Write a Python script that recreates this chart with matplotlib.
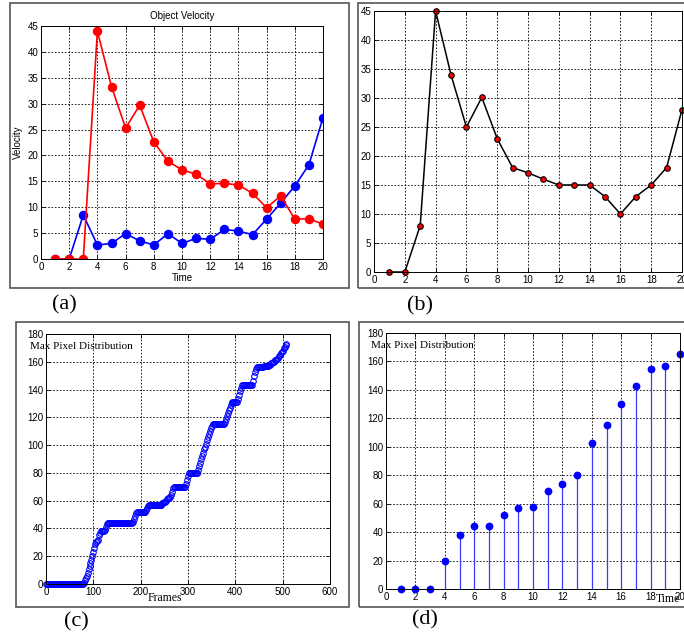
import numpy as np
import matplotlib
matplotlib.use("Agg")
from matplotlib import pyplot as plt
from matplotlib.patches import Rectangle

# (a) object velocity, two objects
time_a = list(range(1, 21))
vel_red = [0, 0, 0, 44, 33.3, 25.3, 29.7, 22.6, 18.9, 17.2,
           16.4, 14.5, 14.6, 14.3, 12.7, 9.9, 12.2, 7.7, 7.8, 6.7]
vel_blue = [0, 0, 8.5, 2.7, 3.0, 4.9, 3.5, 2.7, 4.9, 3.0,
            4.0, 3.8, 5.7, 5.4, 4.7, 7.7, 10.8, 14.1, 18.2, 27.3]

# (b) single velocity curve
time_b = list(range(1, 21))
vel_b = [0, 0, 8, 45, 34, 25, 30.1, 23, 18, 17.1,
         16, 15, 15, 15, 13, 10, 13, 15, 18, 28]

# (c) max pixel distribution, read every 2 frames (0..508)
pix_c = ([0] * 39
         + [0, 1, 3, 4, 6, 8, 11, 13, 15, 17, 20, 23, 26, 29, 30, 31, 32,
            35, 37, 38, 38, 38, 38, 39, 41, 43, 44]
         + [44] * 26
         + [45, 47, 49, 51, 52]
         + [52] * 9
         + [53, 55, 56, 57]
         + [57] * 13
         + [58, 58, 59, 59, 60, 61, 62, 62, 63, 64, 66, 69, 70]
         + [70] * 12
         + [72, 75, 78, 80]
         + [80] * 9
         + [82, 85, 87, 90, 92, 94, 97, 99, 101, 104, 106, 108, 110, 112, 114, 115]
         + [115] * 12
         + [117, 119, 121, 123, 125, 127, 129, 130, 131]
         + [131] * 5
         + [133, 136, 139, 141, 143]
         + [143] * 11
         + [146, 150, 153, 155, 156]
         + [156] * 6
         + [157] * 6
         + [158, 158, 159, 159, 160, 160, 161, 161, 162, 163, 164, 165,
            166, 167, 168, 170, 171, 172, 173])
frames_c = list(range(0, 2 * len(pix_c), 2))

# (d) max pixel distribution over time
time_d = list(range(1, 21))
pix_d = [0, 0, 0, 20, 38, 44, 44, 52, 57, 58,
         69, 74, 80, 103, 115, 130, 143, 155, 157, 165]

W, H = 684, 644
fig = plt.figure(figsize=(W / 100, H / 100), dpi=100)
fig.patch.set_facecolor("white")

sans = "Liberation Sans"
serif = "Liberation Serif"


def px_axes(l, t, r, b):
    return fig.add_axes([l / W, 1 - b / H, (r - l) / W, (b - t) / H])


def px_box(l, t, r, b):
    fig.patches.append(Rectangle((l / W, 1 - b / H), (r - l) / W, (b - t) / H,
                                 transform=fig.transFigure, fill=False,
                                 edgecolor="#555555", linewidth=1.2))


def matlab_style(ax):
    ax.grid(True, color="black", linestyle=(0, (2, 2)), linewidth=0.6)
    ax.set_axisbelow(True)
    ax.tick_params(direction="in", top=True, right=True, length=3,
                   width=0.6, labelsize=7, pad=2)
    for lab in ax.get_xticklabels() + ax.get_yticklabels():
        lab.set_fontfamily(sans)
    for s in ax.spines.values():
        s.set_linewidth(0.7)


# frames around each panel
px_box(10, 3, 349, 288)
px_box(358, 3, 700, 288)
px_box(16, 322, 349, 607)
px_box(359, 322, 700, 607)

# (a)
ax = px_axes(41, 26, 323, 259)
ax.plot(time_a, vel_blue, "-o", color="blue", lw=1.2, ms=5.8)
ax.plot(time_a, vel_red, "-o", color="red", lw=1.2, ms=5.8)
ax.set_xlim(0, 20)
ax.set_ylim(0, 45)
ax.set_xticks(range(0, 21, 2))
ax.set_yticks(range(0, 46, 5))
matlab_style(ax)
ax.set_title("Object Velocity", fontsize=7, family=sans, pad=5)
ax.set_xlabel("Time", fontsize=7, family=sans, labelpad=1)
ax.set_ylabel("Velocity", fontsize=7, family=sans, labelpad=3)

# (b)
ax = px_axes(374, 11, 682, 272)
ax.plot(time_b, vel_b, "-o", color="black", lw=1.1, ms=4,
        markerfacecolor="red", markeredgecolor="black", markeredgewidth=0.8,
        clip_on=False)
ax.set_xlim(0, 20)
ax.set_ylim(0, 45)
ax.set_xticks(range(0, 21, 2))
ax.set_yticks(range(0, 46, 5))
matlab_style(ax)

# (c)
ax = px_axes(46, 334, 330, 584)
ax.plot(frames_c, pix_c, "o", color="blue", ms=4, mfc="none", mew=0.8,
        clip_on=False)
ax.set_xlim(0, 600)
ax.set_ylim(0, 180)
ax.set_xticks(range(0, 601, 100))
ax.set_yticks(range(0, 181, 20))
matlab_style(ax)
ax.text(-0.055, 0.95, "Max Pixel Distribution", transform=ax.transAxes,
        fontsize=8, family=serif, va="center", ha="left")
ax.text(251, -10, "Frames", fontsize=8.5, family=serif, ha="center", va="center")

# (d)
ax = px_axes(386, 333, 680, 589)
ml, sl, bl = ax.stem(time_d, pix_d, basefmt=" ")
plt.setp(sl, color="#3a3aff", linewidth=0.9)
plt.setp(ml, color="blue", markersize=4.6, clip_on=False)
ax.set_xlim(0, 20)
ax.set_ylim(0, 180)
ax.set_xticks(range(0, 21, 2))
ax.set_yticks(range(0, 181, 20))
matlab_style(ax)
ax.text(-0.05, 0.95, "Max Pixel Distribution", transform=ax.transAxes,
        fontsize=8, family=serif, va="center", ha="left")
ax.text(19.2, -7, "Time", fontsize=8.5, family=serif, ha="center", va="center")

# panel letters
for x, y, s in [(64, 305, "(a)"), (420, 306, "(b)"), (76, 622, "(c)"), (425, 620, "(d)")]:
    fig.text(x / W, 1 - y / H, s, fontsize=16, family=serif, ha="center", va="center")

fig.savefig("out.png", dpi=100)
